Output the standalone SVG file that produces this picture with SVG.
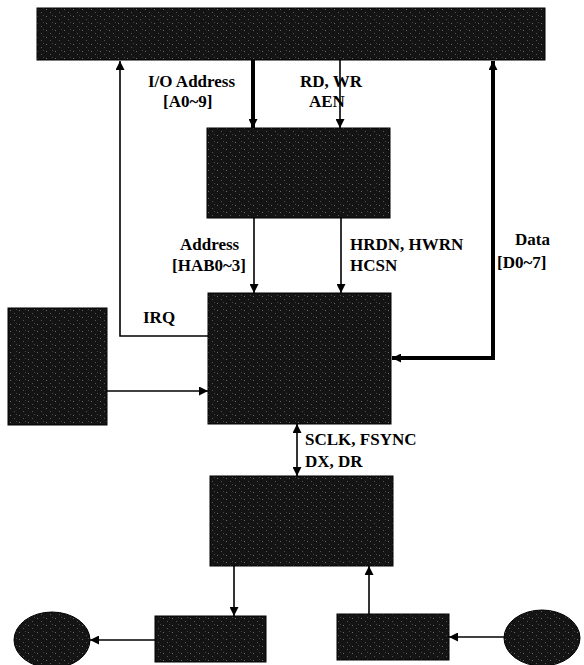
<svg xmlns="http://www.w3.org/2000/svg" width="584" height="665" viewBox="0 0 584 665">
<defs>
<pattern id="tex" width="9" height="7" patternUnits="userSpaceOnUse">
<rect width="9" height="7" fill="#141414"/>
<rect x="1" y="2" width="1" height="1" fill="#6a6a6a"/>
<rect x="5" y="5" width="1" height="1" fill="#555"/>
<rect x="7" y="1" width="1" height="1" fill="#444"/>
</pattern>
<marker id="ah" viewBox="0 0 10 10" refX="10" refY="5" markerWidth="9" markerHeight="9" markerUnits="userSpaceOnUse" orient="auto-start-reverse">
<path d="M0,0 L10,5 L0,10 z" fill="#000"/>
</marker>
</defs>
<style>
.blk{fill:url(#tex);stroke:#000;stroke-width:1}
.thin{fill:none;stroke:#000;stroke-width:1.6}
.thick{fill:none;stroke:#000;stroke-width:4}
text{font-family:"Liberation Serif","Times New Roman",serif;font-size:17px;font-weight:bold;fill:#000}
</style>
<rect width="584" height="665" fill="#fff"/>
<g id="bus"><rect class="blk" x="37" y="8" width="508" height="52"/></g>
<g id="decoder"><rect class="blk" x="207" y="128" width="183" height="90"/></g>
<g id="main"><rect class="blk" x="208" y="293" width="183" height="131"/></g>
<g id="left"><rect class="blk" x="8" y="308" width="99" height="117"/></g>
<g id="codec"><rect class="blk" x="210" y="476" width="183" height="90"/></g>
<g id="out"><rect class="blk" x="155" y="616" width="111" height="46"/></g>
<g id="in"><rect class="blk" x="337" y="614" width="112" height="46"/></g>
<g id="speaker"><ellipse class="blk" cx="52" cy="640" rx="38" ry="28"/></g>
<g id="mic"><ellipse class="blk" cx="542" cy="638" rx="38" ry="28"/></g>
<g id="connectors">
<polyline class="thin" points="208,336 120,336 120,61" marker-end="url(#ah)"/>
<line class="thick" x1="253" y1="60" x2="253" y2="128" marker-end="url(#ah)"/>
<line class="thin" x1="340" y1="60" x2="340" y2="128" marker-end="url(#ah)"/>
<polyline class="thick" points="392,358 493,358 493,61" marker-start="url(#ah)" marker-end="url(#ah)"/>
<line class="thin" x1="254" y1="218" x2="254" y2="293" marker-end="url(#ah)"/>
<line class="thin" x1="341" y1="218" x2="341" y2="293" marker-end="url(#ah)"/>
<line class="thin" x1="107" y1="391" x2="208" y2="391" marker-end="url(#ah)"/>
<line class="thin" x1="297" y1="424" x2="297" y2="476" marker-start="url(#ah)" marker-end="url(#ah)"/>
<line class="thin" x1="234" y1="566" x2="234" y2="616" marker-end="url(#ah)"/>
<line class="thin" x1="369" y1="614" x2="369" y2="566" marker-end="url(#ah)"/>
<line class="thin" x1="155" y1="640" x2="90" y2="640" marker-end="url(#ah)"/>
<line class="thin" x1="504" y1="637" x2="449" y2="637" marker-end="url(#ah)"/>
</g>
<g id="labels">
<text x="148" y="87">I/O Address</text>
<text x="163" y="107">[A0~9]</text>
<text x="300" y="87">RD, WR</text>
<text x="309" y="107">AEN</text>
<text x="180" y="250">Address</text>
<text x="172" y="271">[HAB0~3]</text>
<text x="350" y="250">HRDN, HWRN</text>
<text x="350" y="271">HCSN</text>
<text x="515" y="245">Data</text>
<text x="497" y="268">[D0~7]</text>
<text x="143" y="323">IRQ</text>
<text x="305" y="445">SCLK, FSYNC</text>
<text x="305" y="467">DX, DR</text>
</g>
</svg>
